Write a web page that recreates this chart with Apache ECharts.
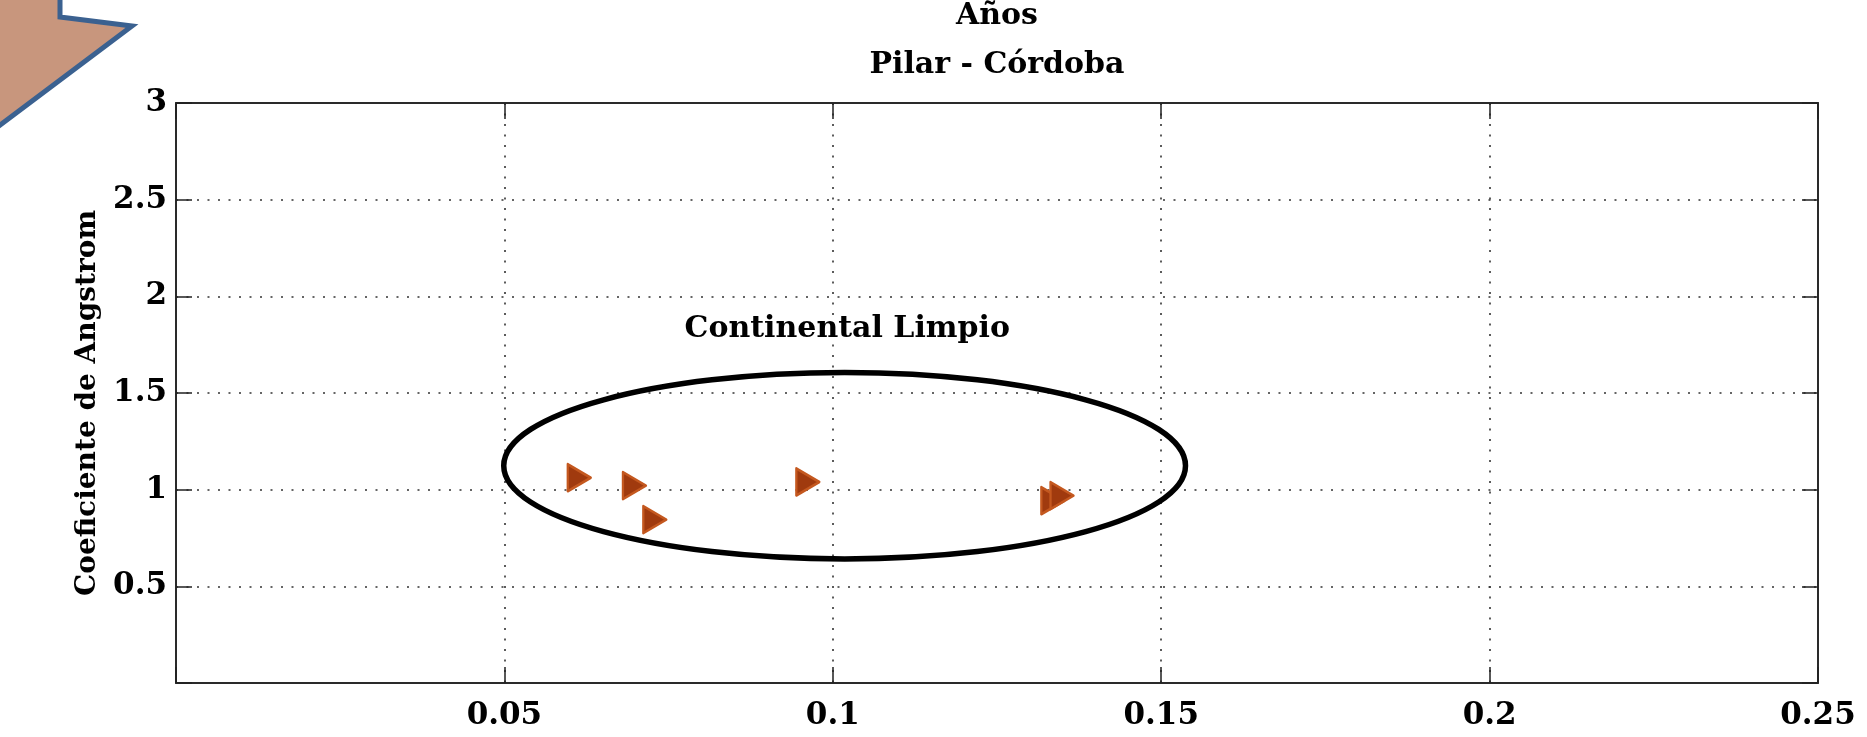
<!DOCTYPE html>
<html><head><meta charset="utf-8">
<script src="https://cdn.jsdelivr.net/npm/echarts@6/dist/echarts.min.js"></script>
<style>html,body{margin:0;padding:0;background:#fff}#c{width:1867px;height:737px}</style>
</head><body><div id="c"></div>
<script>
// ---- data ----
const aodValues = [0.0614, 0.0698, 0.0729, 0.0962, 0.1335, 0.1349];
const angstromValues = [1.062, 1.021, 0.845, 1.040, 0.943, 0.969];
const xTickValues = [0, 0.05, 0.1, 0.15, 0.2, 0.25];
const yTickValues = [0, 0.5, 1, 1.5, 2, 2.5, 3];
const titleLines = ['Años', 'Pilar - Córdoba'];
const yAxisName = 'Coeficiente de Angstrom';
const clusterLabel = 'Continental Limpio';
// ellipse around cluster: centre x, centre y, half-width, half-height (data units)
const clusterEllipse = [0.1018, 1.124, 0.0519, 0.482];
const clusterLabelAt = [0.1022, 1.83];

const FONT = '"DejaVu Serif", "Liberation Serif", serif';
const chart = echarts.init(document.getElementById('c'), null, {renderer: 'canvas'});

const fmt = v => (Math.abs(v) < 1e-9 ? '' : String(+Number(v).toFixed(2)));
const axisLineStyle = {color: '#2a2a2a', width: 2};
const tickStyle = {show: true, inside: true, length: 16, lineStyle: {color: '#222', width: 1.5}};
const gridDots = {show: true, lineStyle: {type: [2, 8.5], color: '#333', width: 1.6}};

chart.setOption({
  animation: false,
  backgroundColor: '#fff',
  title: [
    {text: titleLines[0], left: 997, textAlign: 'center', top: 1, padding: 0,
     textStyle: {fontFamily: FONT, fontWeight: 'bold', fontSize: 30, color: '#000'}},
    {text: titleLines[1], left: 997, textAlign: 'center', top: 50, padding: 0,
     textStyle: {fontFamily: FONT, fontWeight: 'bold', fontSize: 30, color: '#000'}}
  ],
  grid: {left: 176, right: 49, top: 103, bottom: 54, containLabel: false},
  xAxis: [
    {type: 'value', min: xTickValues[0], max: xTickValues[xTickValues.length - 1],
     interval: xTickValues[1] - xTickValues[0], position: 'bottom',
     axisLine: {show: true, onZero: false, lineStyle: axisLineStyle},
     axisTick: tickStyle,
     axisLabel: {formatter: fmt, fontFamily: FONT, fontWeight: 'bold', fontSize: 31, color: '#000', margin: 17},
     splitLine: gridDots},
    {type: 'value', min: xTickValues[0], max: xTickValues[xTickValues.length - 1],
     interval: xTickValues[1] - xTickValues[0], position: 'top',
     axisLine: {show: true, onZero: false, lineStyle: axisLineStyle},
     axisTick: tickStyle, axisLabel: {show: false}, splitLine: {show: false}}
  ],
  yAxis: [
    {type: 'value', min: yTickValues[0], max: yTickValues[yTickValues.length - 1],
     interval: yTickValues[1] - yTickValues[0], position: 'left',
     name: yAxisName, nameLocation: 'middle', nameGap: 74, nameMoveOverlap: false,
     nameTextStyle: {fontFamily: FONT, fontWeight: 'bold', fontSize: 28, color: '#000', padding: [0, 20, 0, 0]},
     axisLine: {show: true, onZero: false, lineStyle: axisLineStyle},
     axisTick: tickStyle,
     axisLabel: {formatter: fmt, fontFamily: FONT, fontWeight: 'bold', fontSize: 31, color: '#000', margin: 9},
     splitLine: gridDots},
    {type: 'value', min: yTickValues[0], max: yTickValues[yTickValues.length - 1],
     interval: yTickValues[1] - yTickValues[0], position: 'right',
     axisLine: {show: true, onZero: false, lineStyle: axisLineStyle},
     axisTick: tickStyle, axisLabel: {show: false}, splitLine: {show: false}}
  ],
  series: [{
    type: 'scatter', xAxisIndex: 0, yAxisIndex: 0,
    data: aodValues.map((x, i) => [x, angstromValues[i]]),
    symbol: 'triangle', symbolRotate: -90, symbolSize: [27, 23],
    itemStyle: {color: '#a03a0e', borderColor: '#c4581f', borderWidth: 2.5, borderJoin: 'round', opacity: 1},
    z: 5
  }]
});

const c = chart.convertToPixel({xAxisIndex: 0, yAxisIndex: 0}, [clusterEllipse[0], clusterEllipse[1]]);
const e = chart.convertToPixel({xAxisIndex: 0, yAxisIndex: 0},
  [clusterEllipse[0] + clusterEllipse[2], clusterEllipse[1] + clusterEllipse[3]]);
const t = chart.convertToPixel({xAxisIndex: 0, yAxisIndex: 0}, clusterLabelAt);

chart.setOption({
  graphic: [
    {type: 'polygon', silent: true, z: 20,
     shape: {points: [[-20, -20], [60, -20], [60, 17], [132, 26], [-20, 140]]},
     style: {fill: '#c8967d', stroke: '#3b6190', lineWidth: 5, lineJoin: 'miter'}},
    {type: 'ellipse', silent: true, z: 10,
     shape: {cx: c[0], cy: c[1], rx: e[0] - c[0], ry: c[1] - e[1]},
     style: {fill: 'none', stroke: '#000', lineWidth: 5.5}},
    {type: 'text', silent: true, z: 10, x: t[0], y: t[1],
     style: {text: clusterLabel, font: 'bold 30px ' + FONT, fill: '#000',
             align: 'center', verticalAlign: 'middle', textAlign: 'center', textVerticalAlign: 'middle'}}
  ]
});
</script>
</body></html>
